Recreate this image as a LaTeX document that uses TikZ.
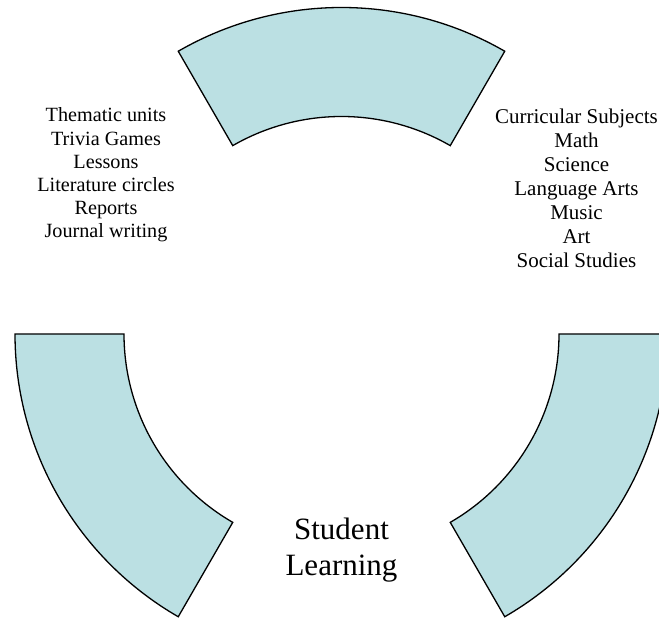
\documentclass[tikz,border=0pt]{standalone}
\usepackage{fontspec}
\setmainfont{Liberation Serif}
\usetikzlibrary{calc}
\definecolor{segfill}{RGB}{187,224,227}
\begin{document}
\begin{tikzpicture}[x=1pt,y=1pt,
  seg/.style={draw=black,fill=segfill,line width=1.3pt,line join=miter},
  listtext/.style={align=center,inner sep=0pt,anchor=base},
  leftfont/.style={font=\fontsize{20.2}{23.1}\selectfont},
  rightfont/.style={font=\fontsize{21}{24}\selectfont},
  bigtext/.style={align=center,inner sep=0pt,anchor=base,font=\fontsize{31}{36}\selectfont}]
\useasboundingbox (0,0) rectangle (659,618);
\clip (0,0) rectangle (659,618);
\coordinate (c) at (341.5,284);
% top segment
\path[seg] ($(c)+(60:326.5)$) arc[start angle=60,end angle=120,radius=326.5]
  -- ($(c)+(120:217.5)$) arc[start angle=120,end angle=60,radius=217.5] -- cycle;
% left segment
\path[seg] ($(c)+(180:326.5)$) arc[start angle=180,end angle=240,radius=326.5]
  -- ($(c)+(240:217.5)$) arc[start angle=240,end angle=180,radius=217.5] -- cycle;
% right segment
\path[seg] ($(c)+(300:326.5)$) arc[start angle=300,end angle=360,radius=326.5]
  -- ($(c)+(0:217.5)$) arc[start angle=360,end angle=300,radius=217.5] -- cycle;
\node[listtext,leftfont] (left) at (106,380.5) {Thematic units\\Trivia Games\\Lessons\\Literature circles\\Reports\\Journal writing};
\node[listtext,rightfont] (right) at (576.5,350) {Curricular Subjects\\Math\\Science\\Language Arts\\Music\\Art\\Social Studies};
\node[bigtext] (center) at (341.5,42) {Student\\Learning};
\end{tikzpicture}
\end{document}
